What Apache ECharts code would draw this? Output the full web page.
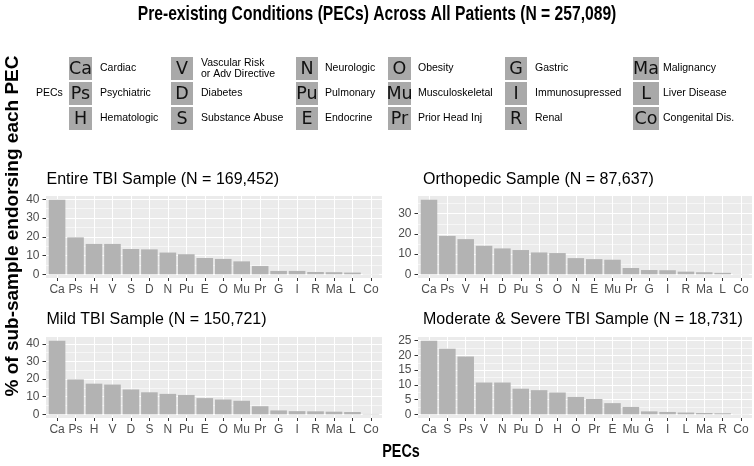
<!DOCTYPE html>
<html><head><meta charset="utf-8">
<script src="https://cdn.jsdelivr.net/npm/echarts@6/dist/echarts.min.js"></script>
<style>html,body{margin:0;padding:0;background:#fff}#c{width:754px;height:466px}</style>
</head><body><div id="c"></div>
<script>
// ---------- data ----------
const mainTitle = 'Pre-existing Conditions (PECs) Across All Patients (N = 257,089)';
const yTitle = '% of sub-sample endorsing each PEC';
const xTitle = 'PECs';

const title1 = 'Entire TBI Sample (N = 169,452)';
const cats1 = ['Ca','Ps','H','V','S','D','N','Pu','E','O','Mu','Pr','G','I','R','Ma','L','Co'];
const vals1 = [39.8,19.7,16.2,16.2,13.5,13.3,11.6,10.7,8.7,8.2,6.9,4.4,1.8,1.8,1.2,1.1,0.9,0.1];
const yTicks1 = [0,10,20,30,40];
const yMinor1 = [5,15,25,35];

const title2 = 'Orthopedic Sample (N = 87,637)';
const cats2 = ['Ca','Ps','V','H','D','Pu','S','O','N','E','Mu','Pr','G','I','R','Ma','L','Co'];
const vals2 = [36.9,19.0,17.4,14.1,12.8,12.0,10.8,10.5,8.0,7.5,7.2,3.1,2.1,2.0,1.3,1.0,0.7,0.1];
const yTicks2 = [0,10,20,30];
const yMinor2 = [5,15,25,35];

const title3 = 'Mild TBI Sample (N = 150,721)';
const cats3 = ['Ca','Ps','H','V','D','S','N','Pu','E','O','Mu','Pr','G','I','R','Ma','L','Co'];
const vals3 = [41.8,19.8,17.4,16.9,14.1,12.5,11.6,11.0,9.2,8.4,7.7,4.6,2.2,1.8,1.7,1.5,1.3,0.2];
const yTicks3 = [0,10,20,30,40];
const yMinor3 = [5,15,25,35];

const title4 = 'Moderate & Severe TBI Sample (N = 18,731)';
const cats4 = ['Ca','S','Ps','V','N','Pu','D','H','O','Pr','E','Mu','G','I','L','Ma','R','Co'];
const vals4 = [25.0,22.3,19.6,10.8,10.8,8.7,8.2,7.4,5.9,5.2,3.8,2.5,1.0,0.8,0.6,0.45,0.35,0.05];
const yTicks4 = [0,5,10,15,20,25];
const yMinor4 = [2.5,7.5,12.5,17.5,22.5];

const legendTitle = 'PECs';
const legendCodes = ['Ca','Ps','H','V','D','S','N','Pu','E','O','Mu','Pr','G','I','R','Ma','L','Co'];
const legendNames = ['Cardiac','Psychiatric','Hematologic','Vascular Risk\nor Adv Directive','Diabetes','Substance Abuse',
  'Neurologic','Pulmonary','Endocrine','Obesity','Musculoskeletal','Prior Head Inj',
  'Gastric','Immunosupressed','Renal','Malignancy','Liver Disease','Congenital Dis.'];

// ---------- layout / style ----------
const FONT = '"Liberation Sans", Arial, sans-serif';
const panels = [
  {title: title1, cats: cats1, vals: vals1, ticks: yTicks1, minor: yMinor1, box: {left: 46, top: 196, width: 336, height: 82}, tx: 46.5, ty: 180},
  {title: title2, cats: cats2, vals: vals2, ticks: yTicks2, minor: yMinor2, box: {left: 418, top: 196, width: 334, height: 82}, tx: 423, ty: 180},
  {title: title3, cats: cats3, vals: vals3, ticks: yTicks3, minor: yMinor3, box: {left: 46, top: 337, width: 336, height: 81}, tx: 46.5, ty: 320},
  {title: title4, cats: cats4, vals: vals4, ticks: yTicks4, minor: yMinor4, box: {left: 418, top: 337, width: 334, height: 81}, tx: 423, ty: 320}
];

const grid = [], xAxis = [], yAxis = [], series = [], graphic = [];

panels.forEach((p, i) => {
  const n = p.cats.length;
  const idx = p.cats.map((_, j) => j);
  const vmax = Math.max.apply(null, p.vals);
  const lo = -0.05 * vmax, hi = 1.05 * vmax;   // ggplot default 5% expansion
  grid.push(Object.assign({show: true, backgroundColor: '#EBEBEB', borderWidth: 0}, p.box));
  xAxis.push({
    type: 'value', gridIndex: i, min: -0.6, max: n - 1 + 0.6, position: 'bottom',
    axisLine: {show: false, onZero: false},
    axisTick: {show: true, customValues: idx, length: 3, lineStyle: {color: '#333333', width: 1}},
    axisLabel: {show: true, customValues: idx, formatter: v => p.cats[Math.round(v)], color: '#4D4D4D', fontSize: 12, fontFamily: FONT, margin: 5.5},
    splitLine: {show: true, lineStyle: {color: '#FFFFFF', width: 1.1}}
  });
  // major y axis
  yAxis.push({
    type: 'value', gridIndex: i, min: lo, max: hi, position: 'left',
    axisLine: {show: false, onZero: false},
    axisTick: {show: true, customValues: p.ticks, length: 3.5, lineStyle: {color: '#333333', width: 1}},
    axisLabel: {show: true, customValues: p.ticks, color: '#4D4D4D', fontSize: 12, fontFamily: FONT, margin: 6.5},
    splitLine: {show: true, lineStyle: {color: '#FFFFFF', width: 1.1}}
  });
  // minor gridlines
  yAxis.push({
    type: 'value', gridIndex: i, min: lo, max: hi, position: 'right',
    axisLine: {show: false, onZero: false},
    axisTick: {show: false, customValues: p.minor},
    axisLabel: {show: false, customValues: p.minor},
    splitLine: {show: true, lineStyle: {color: '#FFFFFF', width: 0.55}}
  });
  series.push({
    type: 'bar', xAxisIndex: i, yAxisIndex: 2 * i,
    data: p.vals.map((v, j) => [j, v]),
    barWidth: '90%',
    itemStyle: {color: '#B3B3B3'},
    silent: true
  });
  graphic.push({type: 'text', x: p.tx, y: p.ty, silent: true,
    style: {text: p.title, font: '16px ' + FONT, fill: '#000', textAlign: 'left', textVerticalAlign: 'middle', align: 'left', verticalAlign: 'middle'}});
});

// main title, axis titles
graphic.push({type: 'text', x: 377, y: 14, scaleX: 0.745, silent: true,
  style: {text: mainTitle, font: 'bold 21px ' + FONT, fill: '#000', textAlign: 'center', textVerticalAlign: 'middle', align: 'center', verticalAlign: 'middle'}});
graphic.push({type: 'text', x: 13, y: 226, rotation: Math.PI / 2, silent: true,
  style: {text: yTitle, font: 'bold 19px ' + FONT, fill: '#000', textAlign: 'center', textVerticalAlign: 'middle', align: 'center', verticalAlign: 'middle'}});
graphic.push({type: 'text', x: 401, y: 452, scaleX: 0.8, silent: true,
  style: {text: xTitle, font: 'bold 18px ' + FONT, fill: '#000', textAlign: 'center', textVerticalAlign: 'middle', align: 'center', verticalAlign: 'middle'}});

// legend
const colBox = [69, 171, 296, 388, 505, 633];
const colW = [23, 22, 22, 23, 22, 26];
const colText = [100, 201, 325, 418, 535, 663];
const rowTop = [57, 82, 107];
const boxH = 23;
graphic.push({type: 'text', x: 36, y: rowTop[1] + boxH / 2, silent: true,
  style: {text: legendTitle, font: '10.5px ' + FONT, fill: '#000', textAlign: 'left', textVerticalAlign: 'middle', align: 'left', verticalAlign: 'middle'}});
legendCodes.forEach((code, k) => {
  const c = Math.floor(k / 3), r = k % 3;
  const cy = rowTop[r] + boxH / 2;
  graphic.push({type: 'rect', silent: true, shape: {x: colBox[c], y: rowTop[r], width: colW[c], height: boxH}, style: {fill: '#A9A9A9'}});
  graphic.push({type: 'text', x: colBox[c] + colW[c] / 2, y: cy + 0.5, silent: true,
    style: {text: code, font: '17.5px "DejaVu Sans", sans-serif', fill: '#111', textAlign: 'center', textVerticalAlign: 'middle', align: 'center', verticalAlign: 'middle'}});
  graphic.push({type: 'text', x: colText[c], y: cy, silent: true,
    style: {text: legendNames[k], font: '10.5px ' + FONT, fill: '#000', lineHeight: 11, textAlign: 'left', textVerticalAlign: 'middle', align: 'left', verticalAlign: 'middle'}});
});

const chart = echarts.init(document.getElementById('c'), null, {renderer: 'canvas'});
chart.setOption({
  animation: false,
  backgroundColor: '#FFFFFF',
  grid, xAxis, yAxis, series, graphic
});
</script>
</body></html>
